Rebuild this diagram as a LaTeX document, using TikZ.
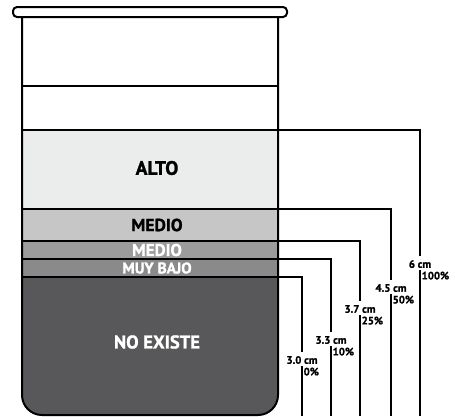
\documentclass[tikz,border=0pt]{standalone}
\usepackage{fontspec}
\setmainfont{PT Sans}[BoldFeatures={FakeBold=1.2}]
\usetikzlibrary{calc}
\definecolor{altoc}{HTML}{EBECEC}
\definecolor{medioa}{HTML}{C6C6C6}
\definecolor{mediob}{HTML}{9C9C9C}
\definecolor{bajoc}{HTML}{8A8A8A}
\definecolor{noexc}{HTML}{58585A}

\begin{document}
\begin{tikzpicture} [x=1pt,y=-1pt,
  band/.style={font=\bfseries\fontsize{#1}{#1}\selectfont, inner sep=0},
  lvl/.style={font=\bfseries\fontsize{10.8}{11}\selectfont, inner xsep=1.5pt, inner ysep=3.5pt},
  lead/.style={black, line width=1.2}]
\useasboundingbox (0,0) rectangle (455,416);
% bands inside the beaker
\begin{scope}
\clip[rounded corners=20] (22,17) -- (22,415) -- (278,415) -- (278,17) -- cycle;
\fill[altoc] (22,130) rectangle (278,209);
\fill[medioa] (22,209) rectangle (278,241);
\fill[mediob] (22,241) rectangle (278,259);
\fill[bajoc] (22,259) rectangle (278,277);
\fill[noexc] (22,277) rectangle (278,416);
\end{scope}
\foreach \y in {86,130,209,241,259,277} {
 \draw[black, line width=1.2] (22,\y) -- (278,\y);
}
\draw[black, line width=2, rounded corners=20] (22,17) -- (22,415) -- (278,415) -- (278,17);
\draw[black, line width=2, fill=white, rounded corners=4] (13,7) rectangle (287,17);

\node[band=19.5] (alto) at (157,168) {ALTO};
\node[band=17.5] (medio) at (157,225) {MEDIO};
\node[band=17, white] (medioB) at (157,250) {MEDIO};
\node[band=15.5, white] (muybajo) at (157,268) {MUY BAJO};
\node[band=18.5, white] (noexiste) at (157,342) {NO EXISTE};

% levels
\foreach \y/\x/\c/\cm/\pc [count=\i] in {130/420/264/6 cm/100\%, 209/391/288/4.5 cm/50\%, 241/360/309/3.7 cm/25\%, 259/331/340/3.3 cm/10\%, 277/302/360/3.0 cm/0\%} {
 \coordinate (w\i) at (278,\y);
 \coordinate (b\i) at (\x,416);
 \node[lvl] (cm\i) at (\x,\c) {\cm};
 \node[lvl, anchor=north west, inner ysep=1.5pt] (pc\i) at (\x,\c+6) {\pc};
 \draw[lead] (w\i) -| (cm\i.north);
 \draw[lead] (pc\i.north west) -- (b\i);
}
\end{tikzpicture}
\end{document}
